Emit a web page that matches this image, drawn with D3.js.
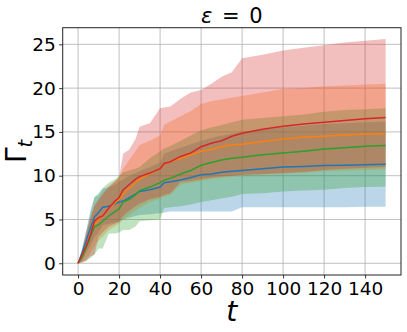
<!DOCTYPE html>
<html lang="en">
  <head>
    <meta charset="utf-8">
    <title>Gamma_t over t, epsilon = 0</title>
    <style>
      body { margin: 0; background: #fff; }
      svg { display: block; font-family: "DejaVu Sans", sans-serif; }
    </style>
  </head>
  <body>
    <div id="viz"></div>
    <script src="https://cdn.jsdelivr.net/npm/d3@7/dist/d3.min.js"></script>
    <script>
      const tSteps = [0, 2, 4, 6, 8, 10, 12, 15, 18, 20, 22, 25, 28, 30, 35, 40, 42, 45, 50, 55, 60, 65, 70, 75, 80, 90, 100, 110, 120, 130, 140, 150]

      const blueMean = [0, 1.2, 2.6, 4.0, 5.3, 5.8, 6.4, 6.5, 6.8, 7.0, 7.1, 7.5, 7.9, 8.2, 8.4, 8.7, 9.2, 9.3, 9.5, 9.8, 10.1, 10.2, 10.4, 10.5, 10.6, 10.8, 11.0, 11.05, 11.15, 11.2, 11.25, 11.3]
      const blueLow = [0, 0.3, 1.2, 2.0, 3.0, 3.5, 4.3, 4.5, 4.6, 4.7, 5.0, 5.2, 5.4, 5.5, 5.6, 5.7, 5.8, 5.9, 5.9, 5.9, 5.9, 5.9, 5.9, 5.9, 6.4, 6.4, 6.4, 6.4, 6.4, 6.4, 6.45, 6.45]
      const blueHigh = [0, 1.8, 3.8, 6.0, 7.5, 7.8, 8.5, 8.7, 9.0, 9.3, 9.6, 10.0, 10.3, 10.5, 11.0, 11.5, 12.5, 12.8, 13.2, 13.6, 14.0, 14.3, 14.6, 14.8, 15.0, 15.3, 15.5, 15.7, 15.9, 16.0, 16.1, 16.2]

      const orangeMean = [0, 0.8, 2.0, 3.3, 4.3, 5.0, 5.4, 6.3, 6.9, 7.3, 7.9, 8.6, 9.2, 9.6, 10.2, 10.8, 11.3, 11.6, 12.0, 12.4, 12.8, 13.0, 13.3, 13.5, 13.6, 13.9, 14.2, 14.4, 14.5, 14.65, 14.75, 14.8]
      const orangeLow = [0, 0.2, 0.5, 1.2, 2.0, 2.6, 3.0, 3.8, 4.2, 4.5, 5.0, 5.5, 6.0, 6.3, 7.0, 7.4, 7.6, 7.8, 9.0, 9.2, 9.4, 9.6, 9.8, 9.9, 10.0, 10.1, 10.2, 10.3, 10.5, 10.6, 10.65, 10.7]
      const orangeHigh = [0, 1.2, 3.0, 5.0, 6.5, 7.2, 7.8, 8.6, 9.3, 9.8, 10.8, 11.8, 12.8, 13.5, 14.0, 14.6, 15.8, 16.2, 16.8, 17.4, 18.2, 18.5, 18.7, 18.9, 19.1, 19.5, 19.9, 20.0, 20.2, 20.3, 20.4, 20.5]

      const greenMean = [0, 0.7, 1.8, 3.0, 4.2, 4.4, 4.8, 5.4, 5.9, 6.2, 7.0, 7.3, 7.8, 8.3, 8.7, 9.2, 9.5, 9.7, 10.2, 10.6, 11.2, 11.5, 11.8, 12.0, 12.1, 12.4, 12.6, 12.8, 13.05, 13.2, 13.35, 13.45]
      const greenLow = [0, 0.1, 0.3, 0.6, 1.0, 1.7, 1.7, 3.4, 3.4, 3.5, 3.8, 3.8, 4.2, 4.8, 4.9, 5.0, 6.3, 6.4, 6.5, 6.7, 7.0, 7.2, 7.4, 7.6, 7.9, 8.0, 8.2, 8.3, 8.4, 8.6, 8.7, 8.75]
      const greenHigh = [0, 1.5, 3.5, 5.6, 7.6, 8.0, 8.6, 9.2, 9.6, 10.0, 10.4, 10.6, 10.8, 11.0, 12.0, 12.8, 13.1, 13.4, 14.0, 14.6, 15.2, 15.5, 15.8, 16.1, 16.4, 16.6, 16.8, 17.0, 17.3, 17.5, 17.6, 17.7]

      const redMean = [0, 1.0, 2.0, 3.2, 4.8, 5.2, 5.4, 6.3, 7.1, 7.5, 8.4, 9.0, 9.6, 9.9, 10.3, 10.8, 11.4, 11.6, 12.2, 12.6, 13.3, 13.7, 14.0, 14.5, 14.85, 15.3, 15.65, 15.9, 16.1, 16.3, 16.5, 16.65]
      const redLow = [0, 0.1, 0.3, 0.8, 1.0, 3.0, 3.5, 4.2, 4.5, 4.8, 5.4, 6.0, 6.5, 6.8, 7.3, 7.6, 7.8, 8.0, 9.3, 9.4, 9.6, 9.8, 9.9, 10.0, 10.1, 10.2, 10.3, 10.45, 10.65, 10.8, 10.9, 11.0]
      const redHigh = [0, 1.5, 3.5, 5.2, 6.6, 7.3, 8.0, 8.8, 9.4, 9.8, 12.5, 13.0, 14.2, 15.6, 16.0, 17.7, 17.8, 17.9, 18.8, 19.5, 19.8, 20.5, 21.3, 21.8, 23.4, 23.8, 24.3, 24.6, 24.9, 25.2, 25.4, 25.6]

      const xTicks = [0, 20, 40, 60, 80, 100, 120, 140]
      const yTicks = [0, 5, 10, 15, 20, 25]

      const series = [
        { color: '#1f77b4', mean: blueMean, low: blueLow, high: blueHigh },
        { color: '#ff7f0e', mean: orangeMean, low: orangeLow, high: orangeHigh },
        { color: '#2ca02c', mean: greenMean, low: greenLow, high: greenHigh },
        { color: '#d62728', mean: redMean, low: redLow, high: redHigh }
      ]

      const width = 407
      const height = 332
      const margin = { top: 27.7, right: 6, bottom: 57, left: 62.7 }

      const svg = d3.select('#viz').append('svg').attr('width', width).attr('height', height)

      const x = d3.scaleLinear().domain([-7.5, 157.5]).range([margin.left, width - margin.right])
      const y = d3.scaleLinear().domain([-1.34, 26.9]).range([height - margin.bottom, margin.top])

      // grid
      svg.append('g').selectAll('line').data(xTicks).enter().append('line')
        .attr('x1', d => x(d)).attr('x2', d => x(d))
        .attr('y1', margin.top).attr('y2', height - margin.bottom)
        .attr('stroke', '#b0b0b0').attr('stroke-width', 0.8)
      svg.append('g').selectAll('line').data(yTicks).enter().append('line')
        .attr('y1', d => y(d)).attr('y2', d => y(d))
        .attr('x1', margin.left).attr('x2', width - margin.right)
        .attr('stroke', '#b0b0b0').attr('stroke-width', 0.8)

      const area = (s) => d3.area()
        .x((d, i) => x(tSteps[i]))
        .y0((d, i) => y(s.low[i]))
        .y1((d, i) => y(s.high[i]))
      const line = d3.line()
        .x((d, i) => x(tSteps[i]))
        .y(d => y(d))

      series.forEach(s => {
        svg.append('path')
          .attr('d', area(s)(tSteps))
          .attr('fill', s.color)
          .attr('fill-opacity', 0.3)
      })
      series.forEach(s => {
        svg.append('path')
          .attr('d', line(s.mean))
          .attr('fill', 'none')
          .attr('stroke', s.color)
          .attr('stroke-width', 1.5)
      })

      // axes
      const xAxis = svg.append('g')
        .attr('transform', `translate(0,${height - margin.bottom})`)
        .call(d3.axisBottom(x).tickValues(xTicks).tickSize(3.5).tickPadding(3.5))
      const yAxis = svg.append('g')
        .attr('transform', `translate(${margin.left},0)`)
        .call(d3.axisLeft(y).tickValues(yTicks).tickSize(3.5).tickPadding(3.5))
      ;[xAxis, yAxis].forEach(g => {
        g.select('.domain').remove()
        g.selectAll('text').attr('font-size', 18.5).attr('font-family', 'DejaVu Sans').attr('fill', '#000')
        g.selectAll('line').attr('stroke', '#000').attr('stroke-width', 0.8)
      })

      svg.append('rect')
        .attr('x', margin.left).attr('y', margin.top)
        .attr('width', width - margin.right - margin.left)
        .attr('height', height - margin.bottom - margin.top)
        .attr('fill', 'none').attr('stroke', '#222').attr('stroke-width', 1)

      // title and labels
      const title = svg.append('text')
        .attr('x', (margin.left + width - margin.right) / 2).attr('y', 23)
        .attr('text-anchor', 'middle').attr('font-size', 21)
        .attr('word-spacing', 3)
      title.append('tspan').attr('font-style', 'italic').text('ε')
      title.append('tspan').text(' = 0')

      svg.append('text')
        .attr('x', (margin.left + width - margin.right) / 2).attr('y', 321)
        .attr('text-anchor', 'middle').attr('font-size', 28).attr('font-style', 'italic')
        .text('t')

      const yl = svg.append('text')
        .attr('transform', `translate(26,${(margin.top + height - margin.bottom) / 2}) rotate(-90)`)
        .attr('text-anchor', 'middle').attr('font-size', 28)
      yl.append('tspan').text('Γ')
      yl.append('tspan').attr('font-style', 'italic').attr('font-size', 19.5).attr('dy', 6).text('t')
    </script>
  </body>
</html>
